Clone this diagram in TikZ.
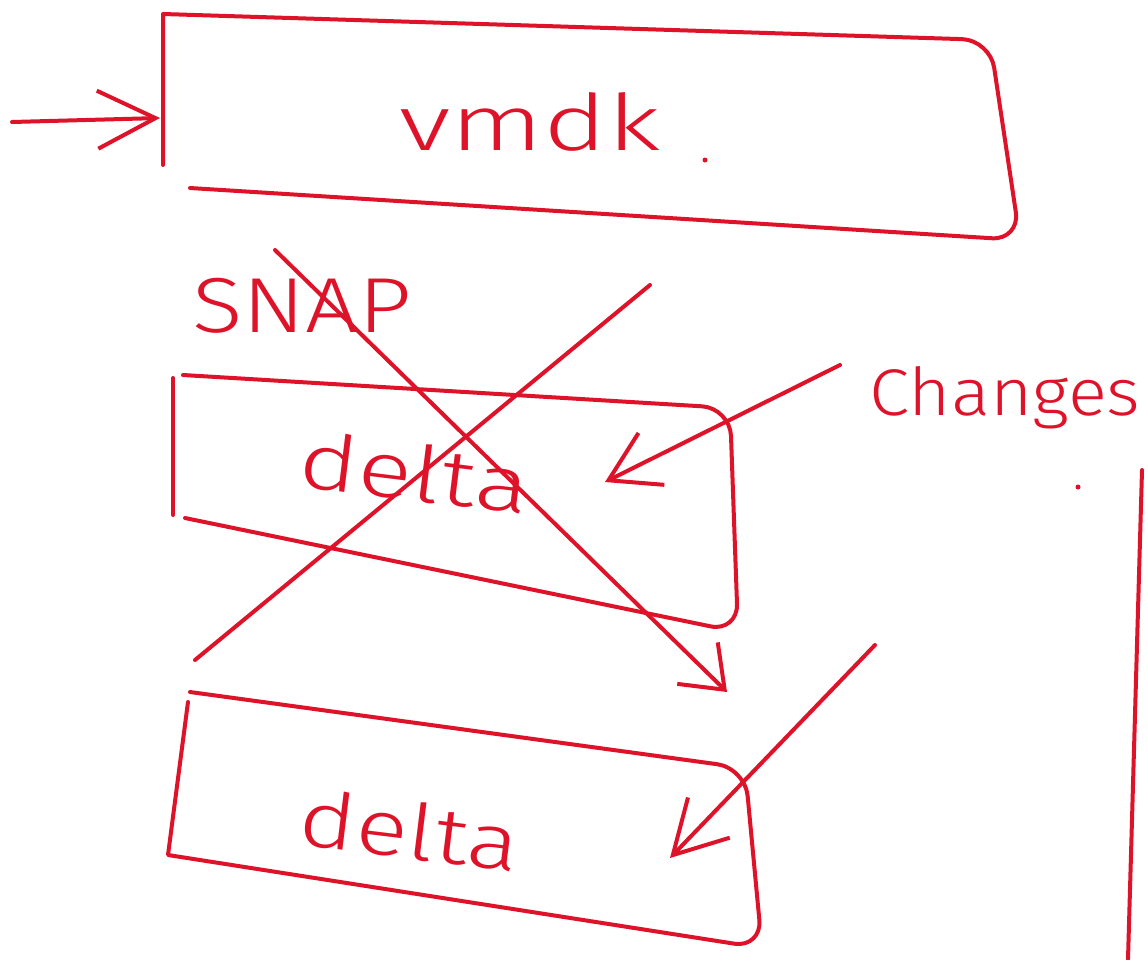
\documentclass[tikz,border=0pt]{standalone}
\usepackage{fontspec}
\setsansfont{Fira Sans}[UprightFont=* Light]
\usetikzlibrary{arrows.meta}
\definecolor{pen}{RGB}{222,18,40}

\begin{document}
\begin{tikzpicture}[
    x=1pt, y=-1pt,
    line width=4pt, line cap=round, line join=round,
    draw=pen,
    hand/.style={text=pen, inner sep=0pt, font=\sffamily\fontsize{78}{90}\selectfont},
    small/.style={text=pen, inner sep=0pt, font=\sffamily\fontsize{66}{76}\selectfont},
    line/.style={-{Straight Barb[length=#1pt, width=58pt]}},
    line/.default=55,
    corner/.style={rounded corners=28pt}
]
\useasboundingbox (0,0) rectangle (1148,959);
% texts
\node[hand] (vmdk) at (530,122) {\scalebox{1.4}[1]{vmdk}};
\node[hand] (snap) at (302,306) {\scalebox{1.2}[1]{SNAP}};
\node[hand, rotate=-7] (deltaA) at (415,472) {\scalebox{1.3}[1]{delta}};
\node[hand, rotate=-7] (deltaB) at (410,830) {\scalebox{1.25}[1]{delta}};
\node[small] (changes) at (1005,398) {\scalebox{1.1}[1]{Changes}};
% points
\coordinate (in) at (12,122);
\coordinate (vmdkleft) at (160,118);
\coordinate (crossA) at (275,250);
\coordinate (crossAend) at (727,692);
\coordinate (crossB) at (650,285);
\coordinate (crossBend) at (195,660);
\coordinate (chg) at (840,365);
\coordinate (chgtip) at (605,482);
\coordinate (low) at (875,645);
\coordinate (lowtip) at (670,858);
% vmdk box
\draw (163,165) -- (163,14) [corner] -- (990,40) -- (1020,240) -- (190,188);
% delta boxes
\draw (173,378) -- (173,515);
\draw[corner] (183,375) -- (730,408) -- (738,632) -- (185,518);
\draw (190,692) [corner] -- (745,768) -- (762,948) [sharp corners] -- (168,855) -- (188,702);
% arrows and crossing
\draw[line=58] (in) -- (vmdkleft);
\draw[line=38] (crossA) -- (crossAend);
\draw (crossB) -- (crossBend);
\draw[line=48] (chg) -- (chgtip);
\draw[line=52] (low) -- (lowtip);
% margin line and dots
\draw (1142,470) -- (1128,959);
\fill[pen] (705,160) circle (2.5);
\fill[pen] (1078,487) circle (2.5);
\end{tikzpicture}
\end{document}
